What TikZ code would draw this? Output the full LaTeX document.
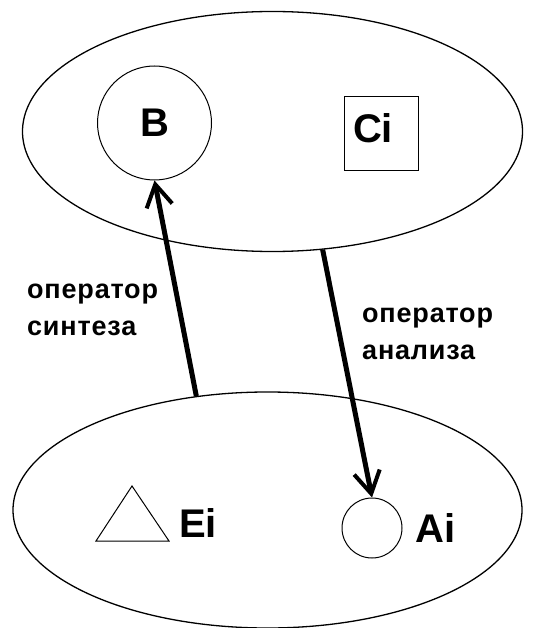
\documentclass[tikz,border=0pt]{standalone}
\usepackage{fontspec}
\setmainfont{Liberation Sans}
\usetikzlibrary{shapes.geometric,arrows.meta}

\begin{document}
\begin{tikzpicture}[x=1pt,y=-1pt,
  setshape/.style={draw, ellipse, line width=1.3pt, inner sep=0pt},
  elem/.style={draw, line width=1pt, inner sep=0pt, font=\fontsize{40}{40}\selectfont\bfseries},
  elemname/.style={font=\fontsize{40}{40}\selectfont\bfseries, inner sep=0pt, anchor=base west},
  oplabel/.style={font=\fontsize{27}{37}\selectfont\bfseries\addfontfeature{LetterSpace=3}, inner sep=0pt, align=left, anchor=base west},
  oparrow/.style={line width=5pt, -{Straight Barb[length=22pt,width=26pt,line width=4pt]}}]
\useasboundingbox (0,0) rectangle (532,628);

% the two sets
\node[setshape, minimum width=500pt, minimum height=240pt] (upper) at (272.5,131.5) {};
\node[setshape, minimum width=509pt, minimum height=236pt] (lower) at (267.5,510) {};

% elements of the upper set
\node[elem, circle, minimum size=114pt] (B) at (154.5,123) {B};
\node[elem, rectangle, minimum size=74pt,
      label={[font=\fontsize{40}{40}\selectfont\bfseries, xshift=-8pt, yshift=5.5pt]center:Ci}]
      (Ci) at (381,133.5) {};

% elements of the lower set
\draw[line width=1pt] (96,541) -- (132,486) -- (169,541) -- cycle;
\node[elemname] (Ei) at (179,537) {Ei};
\node[elem, circle, minimum size=60pt] (Ai) at (372,528) {};
\node[elemname] (AiName) at (415,542) {Ai};

% operators
\draw[oparrow] (lower.122.9) -- (B.south);
\draw[oparrow] (upper.-67.7) -- (Ai.north);

% the base anchor of a two-line label sits on its last line
\node[oplabel] (syn) at (27,335) {оператор\\синтеза};
\node[oplabel] (ana) at (362,359) {оператор\\анализа};
\end{tikzpicture}
\end{document}
